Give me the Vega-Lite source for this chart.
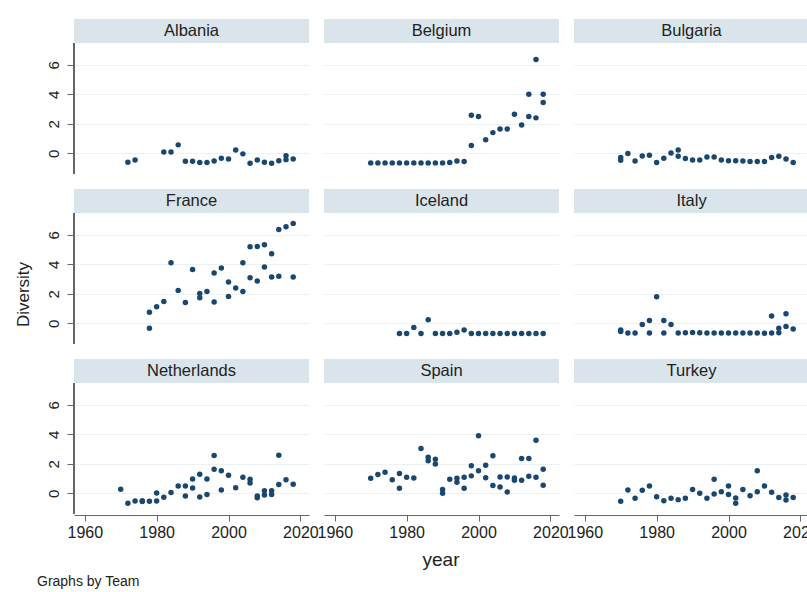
{
  "$schema": "https://vega.github.io/schema/vega-lite/v6.json",
  "padding": {"left": 14, "top": 19, "right": 0, "bottom": 2},
  "background": "white",
  "title": {"text": "Graphs by Team", "orient": "bottom", "anchor": "start", "fontSize": 14, "fontWeight": "normal", "font": "Liberation Sans", "color": "#222222", "offset": 5, "dx": 22},
  "config": {
    "font": "Liberation Sans",
    "view": {"stroke": null},
    "header": {"labels": false, "labelExpr": "''", "labelFontSize": 0, "labelPadding": 0},
    "axis": {"labelFont": "Liberation Sans", "titleFont": "Liberation Sans", "labelColor": "#222222", "titleColor": "#222222", "titleFontWeight": "normal", "domainColor": "#666666", "tickColor": "#666666", "gridColor": "#eaf2f3", "gridWidth": 1.2}
  },
  "vconcat": [{
  "title": {"text": "Diversity", "orient": "left", "anchor": "middle", "fontSize": 17, "fontWeight": "normal", "font": "Liberation Sans", "color": "#222222", "offset": 13},
  "data": {"values": [
    {"Team": "Albania", "year": 1972, "Diversity": -0.61},
    {"Team": "Albania", "year": 1974, "Diversity": -0.45},
    {"Team": "Albania", "year": 1982, "Diversity": 0.09},
    {"Team": "Albania", "year": 1984, "Diversity": 0.09},
    {"Team": "Albania", "year": 1986, "Diversity": 0.57},
    {"Team": "Albania", "year": 1988, "Diversity": -0.54},
    {"Team": "Albania", "year": 1990, "Diversity": -0.54},
    {"Team": "Albania", "year": 1992, "Diversity": -0.63},
    {"Team": "Albania", "year": 1994, "Diversity": -0.63},
    {"Team": "Albania", "year": 1996, "Diversity": -0.52},
    {"Team": "Albania", "year": 1998, "Diversity": -0.34},
    {"Team": "Albania", "year": 2000, "Diversity": -0.38},
    {"Team": "Albania", "year": 2002, "Diversity": 0.23},
    {"Team": "Albania", "year": 2004, "Diversity": -0.04},
    {"Team": "Albania", "year": 2006, "Diversity": -0.68},
    {"Team": "Albania", "year": 2008, "Diversity": -0.45},
    {"Team": "Albania", "year": 2010, "Diversity": -0.61},
    {"Team": "Albania", "year": 2012, "Diversity": -0.68},
    {"Team": "Albania", "year": 2014, "Diversity": -0.5},
    {"Team": "Albania", "year": 2016, "Diversity": -0.16},
    {"Team": "Albania", "year": 2016, "Diversity": -0.43},
    {"Team": "Albania", "year": 2018, "Diversity": -0.38},
    {"Team": "Belgium", "year": 1970, "Diversity": -0.65},
    {"Team": "Belgium", "year": 1972, "Diversity": -0.65},
    {"Team": "Belgium", "year": 1974, "Diversity": -0.65},
    {"Team": "Belgium", "year": 1976, "Diversity": -0.65},
    {"Team": "Belgium", "year": 1978, "Diversity": -0.65},
    {"Team": "Belgium", "year": 1980, "Diversity": -0.65},
    {"Team": "Belgium", "year": 1982, "Diversity": -0.65},
    {"Team": "Belgium", "year": 1984, "Diversity": -0.65},
    {"Team": "Belgium", "year": 1986, "Diversity": -0.65},
    {"Team": "Belgium", "year": 1988, "Diversity": -0.65},
    {"Team": "Belgium", "year": 1990, "Diversity": -0.65},
    {"Team": "Belgium", "year": 1992, "Diversity": -0.62},
    {"Team": "Belgium", "year": 1994, "Diversity": -0.52},
    {"Team": "Belgium", "year": 1996, "Diversity": -0.55},
    {"Team": "Belgium", "year": 1998, "Diversity": 2.58},
    {"Team": "Belgium", "year": 1998, "Diversity": 0.52},
    {"Team": "Belgium", "year": 2000, "Diversity": 2.49},
    {"Team": "Belgium", "year": 2002, "Diversity": 0.91},
    {"Team": "Belgium", "year": 2004, "Diversity": 1.4},
    {"Team": "Belgium", "year": 2006, "Diversity": 1.65},
    {"Team": "Belgium", "year": 2008, "Diversity": 1.65},
    {"Team": "Belgium", "year": 2010, "Diversity": 2.65},
    {"Team": "Belgium", "year": 2012, "Diversity": 1.92},
    {"Team": "Belgium", "year": 2014, "Diversity": 4.0},
    {"Team": "Belgium", "year": 2014, "Diversity": 2.49},
    {"Team": "Belgium", "year": 2016, "Diversity": 6.35},
    {"Team": "Belgium", "year": 2016, "Diversity": 2.4},
    {"Team": "Belgium", "year": 2018, "Diversity": 4.0},
    {"Team": "Belgium", "year": 2018, "Diversity": 3.44},
    {"Team": "Bulgaria", "year": 1970, "Diversity": -0.29},
    {"Team": "Bulgaria", "year": 1970, "Diversity": -0.47},
    {"Team": "Bulgaria", "year": 1972, "Diversity": -0.02},
    {"Team": "Bulgaria", "year": 1974, "Diversity": -0.52},
    {"Team": "Bulgaria", "year": 1976, "Diversity": -0.18},
    {"Team": "Bulgaria", "year": 1978, "Diversity": -0.13},
    {"Team": "Bulgaria", "year": 1980, "Diversity": -0.63},
    {"Team": "Bulgaria", "year": 1982, "Diversity": -0.34},
    {"Team": "Bulgaria", "year": 1984, "Diversity": 0.02},
    {"Team": "Bulgaria", "year": 1986, "Diversity": 0.23},
    {"Team": "Bulgaria", "year": 1986, "Diversity": -0.2},
    {"Team": "Bulgaria", "year": 1988, "Diversity": -0.36},
    {"Team": "Bulgaria", "year": 1990, "Diversity": -0.45},
    {"Team": "Bulgaria", "year": 1992, "Diversity": -0.45},
    {"Team": "Bulgaria", "year": 1994, "Diversity": -0.25},
    {"Team": "Bulgaria", "year": 1996, "Diversity": -0.25},
    {"Team": "Bulgaria", "year": 1998, "Diversity": -0.45},
    {"Team": "Bulgaria", "year": 2000, "Diversity": -0.5},
    {"Team": "Bulgaria", "year": 2002, "Diversity": -0.5},
    {"Team": "Bulgaria", "year": 2004, "Diversity": -0.52},
    {"Team": "Bulgaria", "year": 2006, "Diversity": -0.56},
    {"Team": "Bulgaria", "year": 2008, "Diversity": -0.56},
    {"Team": "Bulgaria", "year": 2010, "Diversity": -0.56},
    {"Team": "Bulgaria", "year": 2012, "Diversity": -0.29},
    {"Team": "Bulgaria", "year": 2014, "Diversity": -0.2},
    {"Team": "Bulgaria", "year": 2016, "Diversity": -0.38},
    {"Team": "Bulgaria", "year": 2018, "Diversity": -0.63},
    {"Team": "France", "year": 1978, "Diversity": 0.74},
    {"Team": "France", "year": 1978, "Diversity": -0.33},
    {"Team": "France", "year": 1980, "Diversity": 1.12},
    {"Team": "France", "year": 1982, "Diversity": 1.48},
    {"Team": "France", "year": 1984, "Diversity": 4.1},
    {"Team": "France", "year": 1986, "Diversity": 2.23},
    {"Team": "France", "year": 1988, "Diversity": 1.41},
    {"Team": "France", "year": 1990, "Diversity": 3.65},
    {"Team": "France", "year": 1992, "Diversity": 2.02},
    {"Team": "France", "year": 1992, "Diversity": 1.73},
    {"Team": "France", "year": 1994, "Diversity": 2.16},
    {"Team": "France", "year": 1996, "Diversity": 3.4},
    {"Team": "France", "year": 1996, "Diversity": 1.44},
    {"Team": "France", "year": 1998, "Diversity": 3.74},
    {"Team": "France", "year": 2000, "Diversity": 2.79},
    {"Team": "France", "year": 2000, "Diversity": 1.82},
    {"Team": "France", "year": 2002, "Diversity": 2.39},
    {"Team": "France", "year": 2004, "Diversity": 4.1},
    {"Team": "France", "year": 2004, "Diversity": 2.16},
    {"Team": "France", "year": 2006, "Diversity": 5.19},
    {"Team": "France", "year": 2006, "Diversity": 3.09},
    {"Team": "France", "year": 2008, "Diversity": 5.21},
    {"Team": "France", "year": 2008, "Diversity": 2.86},
    {"Team": "France", "year": 2010, "Diversity": 5.32},
    {"Team": "France", "year": 2010, "Diversity": 3.81},
    {"Team": "France", "year": 2012, "Diversity": 4.71},
    {"Team": "France", "year": 2012, "Diversity": 3.13},
    {"Team": "France", "year": 2014, "Diversity": 6.36},
    {"Team": "France", "year": 2014, "Diversity": 3.18},
    {"Team": "France", "year": 2016, "Diversity": 6.54},
    {"Team": "France", "year": 2018, "Diversity": 6.77},
    {"Team": "France", "year": 2018, "Diversity": 3.13},
    {"Team": "Iceland", "year": 1978, "Diversity": -0.69},
    {"Team": "Iceland", "year": 1980, "Diversity": -0.69},
    {"Team": "Iceland", "year": 1982, "Diversity": -0.28},
    {"Team": "Iceland", "year": 1984, "Diversity": -0.69},
    {"Team": "Iceland", "year": 1986, "Diversity": 0.24},
    {"Team": "Iceland", "year": 1988, "Diversity": -0.69},
    {"Team": "Iceland", "year": 1990, "Diversity": -0.69},
    {"Team": "Iceland", "year": 1992, "Diversity": -0.69},
    {"Team": "Iceland", "year": 1994, "Diversity": -0.6},
    {"Team": "Iceland", "year": 1996, "Diversity": -0.46},
    {"Team": "Iceland", "year": 1998, "Diversity": -0.69},
    {"Team": "Iceland", "year": 2000, "Diversity": -0.69},
    {"Team": "Iceland", "year": 2002, "Diversity": -0.69},
    {"Team": "Iceland", "year": 2004, "Diversity": -0.69},
    {"Team": "Iceland", "year": 2006, "Diversity": -0.69},
    {"Team": "Iceland", "year": 2008, "Diversity": -0.69},
    {"Team": "Iceland", "year": 2010, "Diversity": -0.69},
    {"Team": "Iceland", "year": 2012, "Diversity": -0.69},
    {"Team": "Iceland", "year": 2014, "Diversity": -0.69},
    {"Team": "Iceland", "year": 2016, "Diversity": -0.69},
    {"Team": "Iceland", "year": 2018, "Diversity": -0.69},
    {"Team": "Italy", "year": 1970, "Diversity": -0.46},
    {"Team": "Italy", "year": 1970, "Diversity": -0.55},
    {"Team": "Italy", "year": 1972, "Diversity": -0.66},
    {"Team": "Italy", "year": 1974, "Diversity": -0.66},
    {"Team": "Italy", "year": 1976, "Diversity": -0.08},
    {"Team": "Italy", "year": 1978, "Diversity": 0.19},
    {"Team": "Italy", "year": 1978, "Diversity": -0.66},
    {"Team": "Italy", "year": 1980, "Diversity": 1.8},
    {"Team": "Italy", "year": 1982, "Diversity": 0.19},
    {"Team": "Italy", "year": 1982, "Diversity": -0.66},
    {"Team": "Italy", "year": 1984, "Diversity": -0.08},
    {"Team": "Italy", "year": 1986, "Diversity": -0.66},
    {"Team": "Italy", "year": 1988, "Diversity": -0.64},
    {"Team": "Italy", "year": 1990, "Diversity": -0.62},
    {"Team": "Italy", "year": 1992, "Diversity": -0.64},
    {"Team": "Italy", "year": 1994, "Diversity": -0.66},
    {"Team": "Italy", "year": 1996, "Diversity": -0.66},
    {"Team": "Italy", "year": 1998, "Diversity": -0.66},
    {"Team": "Italy", "year": 2000, "Diversity": -0.66},
    {"Team": "Italy", "year": 2002, "Diversity": -0.66},
    {"Team": "Italy", "year": 2004, "Diversity": -0.66},
    {"Team": "Italy", "year": 2006, "Diversity": -0.66},
    {"Team": "Italy", "year": 2008, "Diversity": -0.66},
    {"Team": "Italy", "year": 2010, "Diversity": -0.67},
    {"Team": "Italy", "year": 2012, "Diversity": 0.49},
    {"Team": "Italy", "year": 2012, "Diversity": -0.66},
    {"Team": "Italy", "year": 2014, "Diversity": -0.33},
    {"Team": "Italy", "year": 2014, "Diversity": -0.64},
    {"Team": "Italy", "year": 2016, "Diversity": 0.65},
    {"Team": "Italy", "year": 2016, "Diversity": -0.21},
    {"Team": "Italy", "year": 2018, "Diversity": -0.39},
    {"Team": "Netherlands", "year": 1970, "Diversity": 0.27},
    {"Team": "Netherlands", "year": 1972, "Diversity": -0.68},
    {"Team": "Netherlands", "year": 1974, "Diversity": -0.52},
    {"Team": "Netherlands", "year": 1976, "Diversity": -0.55},
    {"Team": "Netherlands", "year": 1976, "Diversity": -0.5},
    {"Team": "Netherlands", "year": 1978, "Diversity": -0.54},
    {"Team": "Netherlands", "year": 1980, "Diversity": 0.02},
    {"Team": "Netherlands", "year": 1980, "Diversity": -0.52},
    {"Team": "Netherlands", "year": 1982, "Diversity": -0.27},
    {"Team": "Netherlands", "year": 1984, "Diversity": 0.05},
    {"Team": "Netherlands", "year": 1986, "Diversity": 0.5},
    {"Team": "Netherlands", "year": 1988, "Diversity": 0.5},
    {"Team": "Netherlands", "year": 1988, "Diversity": -0.18},
    {"Team": "Netherlands", "year": 1990, "Diversity": 0.97},
    {"Team": "Netherlands", "year": 1990, "Diversity": 0.36},
    {"Team": "Netherlands", "year": 1992, "Diversity": 1.29},
    {"Team": "Netherlands", "year": 1992, "Diversity": -0.25},
    {"Team": "Netherlands", "year": 1994, "Diversity": 0.97},
    {"Team": "Netherlands", "year": 1994, "Diversity": -0.09},
    {"Team": "Netherlands", "year": 1996, "Diversity": 2.56},
    {"Team": "Netherlands", "year": 1996, "Diversity": 1.63},
    {"Team": "Netherlands", "year": 1998, "Diversity": 1.52},
    {"Team": "Netherlands", "year": 1998, "Diversity": 0.23},
    {"Team": "Netherlands", "year": 2000, "Diversity": 1.22},
    {"Team": "Netherlands", "year": 2002, "Diversity": 0.38},
    {"Team": "Netherlands", "year": 2004, "Diversity": 1.09},
    {"Team": "Netherlands", "year": 2006, "Diversity": 0.95},
    {"Team": "Netherlands", "year": 2006, "Diversity": 0.7},
    {"Team": "Netherlands", "year": 2008, "Diversity": -0.18},
    {"Team": "Netherlands", "year": 2008, "Diversity": -0.3},
    {"Team": "Netherlands", "year": 2010, "Diversity": 0.18},
    {"Team": "Netherlands", "year": 2010, "Diversity": -0.11},
    {"Team": "Netherlands", "year": 2012, "Diversity": 0.18},
    {"Team": "Netherlands", "year": 2012, "Diversity": -0.09},
    {"Team": "Netherlands", "year": 2014, "Diversity": 2.58},
    {"Team": "Netherlands", "year": 2014, "Diversity": 0.59},
    {"Team": "Netherlands", "year": 2016, "Diversity": 0.91},
    {"Team": "Netherlands", "year": 2018, "Diversity": 0.61},
    {"Team": "Spain", "year": 1970, "Diversity": 1.02},
    {"Team": "Spain", "year": 1972, "Diversity": 1.27},
    {"Team": "Spain", "year": 1974, "Diversity": 1.43},
    {"Team": "Spain", "year": 1976, "Diversity": 0.91},
    {"Team": "Spain", "year": 1978, "Diversity": 1.34},
    {"Team": "Spain", "year": 1978, "Diversity": 0.34},
    {"Team": "Spain", "year": 1980, "Diversity": 1.09},
    {"Team": "Spain", "year": 1982, "Diversity": 1.04},
    {"Team": "Spain", "year": 1984, "Diversity": 3.03},
    {"Team": "Spain", "year": 1986, "Diversity": 2.45},
    {"Team": "Spain", "year": 1986, "Diversity": 2.2},
    {"Team": "Spain", "year": 1988, "Diversity": 2.31},
    {"Team": "Spain", "year": 1988, "Diversity": 1.99},
    {"Team": "Spain", "year": 1990, "Diversity": 0.25},
    {"Team": "Spain", "year": 1990, "Diversity": 0.0},
    {"Team": "Spain", "year": 1992, "Diversity": 0.95},
    {"Team": "Spain", "year": 1994, "Diversity": 1.02},
    {"Team": "Spain", "year": 1994, "Diversity": 0.75},
    {"Team": "Spain", "year": 1996, "Diversity": 1.09},
    {"Team": "Spain", "year": 1996, "Diversity": 0.34},
    {"Team": "Spain", "year": 1998, "Diversity": 1.86},
    {"Team": "Spain", "year": 1998, "Diversity": 1.18},
    {"Team": "Spain", "year": 2000, "Diversity": 3.9},
    {"Team": "Spain", "year": 2000, "Diversity": 1.52},
    {"Team": "Spain", "year": 2002, "Diversity": 1.9},
    {"Team": "Spain", "year": 2002, "Diversity": 1.06},
    {"Team": "Spain", "year": 2004, "Diversity": 2.54},
    {"Team": "Spain", "year": 2004, "Diversity": 0.52},
    {"Team": "Spain", "year": 2006, "Diversity": 1.11},
    {"Team": "Spain", "year": 2006, "Diversity": 0.43},
    {"Team": "Spain", "year": 2008, "Diversity": 1.11},
    {"Team": "Spain", "year": 2008, "Diversity": 0.09},
    {"Team": "Spain", "year": 2010, "Diversity": 1.04},
    {"Team": "Spain", "year": 2010, "Diversity": 0.88},
    {"Team": "Spain", "year": 2012, "Diversity": 2.36},
    {"Team": "Spain", "year": 2012, "Diversity": 0.88},
    {"Team": "Spain", "year": 2014, "Diversity": 2.36},
    {"Team": "Spain", "year": 2014, "Diversity": 1.15},
    {"Team": "Spain", "year": 2016, "Diversity": 3.6},
    {"Team": "Spain", "year": 2016, "Diversity": 1.09},
    {"Team": "Spain", "year": 2018, "Diversity": 1.63},
    {"Team": "Spain", "year": 2018, "Diversity": 0.54},
    {"Team": "Turkey", "year": 1970, "Diversity": -0.54},
    {"Team": "Turkey", "year": 1972, "Diversity": 0.23},
    {"Team": "Turkey", "year": 1974, "Diversity": -0.34},
    {"Team": "Turkey", "year": 1976, "Diversity": 0.2},
    {"Team": "Turkey", "year": 1978, "Diversity": 0.5},
    {"Team": "Turkey", "year": 1980, "Diversity": -0.23},
    {"Team": "Turkey", "year": 1982, "Diversity": -0.5},
    {"Team": "Turkey", "year": 1984, "Diversity": -0.34},
    {"Team": "Turkey", "year": 1986, "Diversity": -0.43},
    {"Team": "Turkey", "year": 1988, "Diversity": -0.34},
    {"Team": "Turkey", "year": 1990, "Diversity": 0.25},
    {"Team": "Turkey", "year": 1992, "Diversity": 0.0},
    {"Team": "Turkey", "year": 1994, "Diversity": -0.34},
    {"Team": "Turkey", "year": 1996, "Diversity": 0.95},
    {"Team": "Turkey", "year": 1996, "Diversity": -0.05},
    {"Team": "Turkey", "year": 1998, "Diversity": 0.11},
    {"Team": "Turkey", "year": 2000, "Diversity": 0.5},
    {"Team": "Turkey", "year": 2000, "Diversity": -0.09},
    {"Team": "Turkey", "year": 2002, "Diversity": -0.32},
    {"Team": "Turkey", "year": 2002, "Diversity": -0.68},
    {"Team": "Turkey", "year": 2004, "Diversity": 0.25},
    {"Team": "Turkey", "year": 2006, "Diversity": -0.16},
    {"Team": "Turkey", "year": 2008, "Diversity": 1.52},
    {"Team": "Turkey", "year": 2008, "Diversity": 0.11},
    {"Team": "Turkey", "year": 2010, "Diversity": 0.5},
    {"Team": "Turkey", "year": 2012, "Diversity": 0.07},
    {"Team": "Turkey", "year": 2014, "Diversity": -0.29},
    {"Team": "Turkey", "year": 2016, "Diversity": -0.11},
    {"Team": "Turkey", "year": 2016, "Diversity": -0.45},
    {"Team": "Turkey", "year": 2018, "Diversity": -0.29}
  ]},
  "facet": {"field": "Team", "type": "nominal", "sort": ["Albania", "Belgium", "Bulgaria", "France", "Iceland", "Italy", "Netherlands", "Spain", "Turkey"], "header": {"title": "year", "titleOrient": "bottom", "titleFontSize": 19, "titleFontWeight": "normal", "titleFont": "Liberation Sans", "titleColor": "#222222", "titlePadding": 11, "labels": false, "labelExpr": "''", "labelFontSize": 0, "labelPadding": 0}},
  "columns": 3,
  "spacing": {"row": 14, "column": 15},
  "spec": {
    "width": 235,
    "height": 154.5,
    "layer": [
      {
        "mark": {"type": "rect", "color": "#d9e5eb"},
        "encoding": {"x": {"datum": 1957, "type": "quantitative", "scale": {"domain": [1957, 2022.4], "nice": false, "zero": false}}, "x2": {"datum": 2022.4}, "y": {"datum": 7.47, "type": "quantitative", "scale": {"domain": [-1.37, 9.1], "nice": false, "zero": false}}, "y2": {"datum": 9.1}}
      },
      {
        "transform": [{"aggregate": [{"op": "count", "as": "n"}], "groupby": ["Team"]}],
        "mark": {"type": "text", "fontSize": 16.5, "font": "Liberation Sans", "color": "#222222", "baseline": "middle", "align": "center"},
        "encoding": {"x": {"datum": 1989.7, "type": "quantitative"}, "y": {"datum": 8.28, "type": "quantitative"}, "text": {"field": "Team"}}
      },
      {
        "transform": [{"filter": {"field": "Team", "oneOf": ["Albania", "France", "Netherlands"]}}],
        "mark": {"type": "rule", "color": "#666666", "strokeWidth": 1.5},
        "encoding": {"x": {"datum": 1957, "type": "quantitative"}, "y": {"datum": -1.37, "type": "quantitative"}, "y2": {"datum": 7.47}}
      },
      {
        "mark": {"type": "circle", "color": "#1a476f", "opacity": 1, "size": 30},
        "encoding": {
          "x": {"field": "year", "type": "quantitative", "scale": {"domain": [1957, 2022.4], "nice": false, "zero": false},
            "axis": {"values": [1960, 1980, 2000, 2020], "format": "d", "title": null, "grid": false, "labelFontSize": 16, "tickSize": 6, "labelPadding": 3, "labelFlush": false, "labelOverlap": false, "domainWidth": 1.2}},
          "y": {"field": "Diversity", "type": "quantitative", "scale": {"domain": [-1.37, 9.1], "nice": false, "zero": false},
            "axis": {"values": [0, 2, 4, 6], "title": null, "grid": true, "domain": false, "labelFontSize": 15, "labelAngle": -90, "labelAlign": "center", "labelBaseline": "bottom", "tickSize": 6, "labelPadding": 6}}
        }
      }
    ]
  }
  }]
}
